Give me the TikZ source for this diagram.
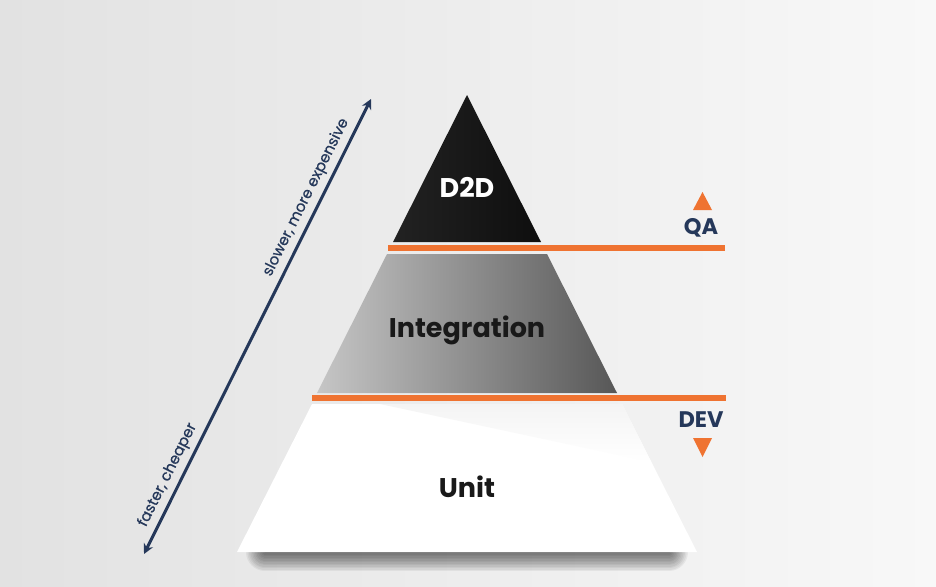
\documentclass[tikz,border=0pt]{standalone}
\usepackage{fontspec}
\setmainfont{Poppins}
\newfontfamily\medfont{Poppins}[FakeBold=0.7]
\usetikzlibrary{arrows.meta}
\definecolor{navy}{HTML}{25385A}
\definecolor{orng}{HTML}{EF7331}
\definecolor{bgl}{HTML}{E2E2E2}
\definecolor{bgr}{HTML}{F8F8F8}
\definecolor{intl}{HTML}{C6C6C6}
\definecolor{intr}{HTML}{575757}
\definecolor{dtop}{HTML}{222222}
\definecolor{dbot}{HTML}{0E0E0E}
\definecolor{unitshade}{HTML}{F4F4F4}
\tikzset{
  orangebar/.style={orng, line width=5.5pt},
  levellabel/.style={font=\bfseries\fontsize{27}{30}\selectfont},
  sidelabel/.style={text=navy, font=\bfseries\fontsize{22.5}{24}\selectfont},
  biarrow/.style={navy, line width=3pt, {Stealth[length=10pt,width=10pt]}-{Stealth[length=10pt,width=10pt]}},
  arrowlabel/.style={text=navy, font=\medfont\fontsize{15}{17}\selectfont, sloped, above=1.5pt},
  marker/.style={fill=orng},
}
\begin{document}
\begin{tikzpicture}[x=1pt,y=-1pt]
\useasboundingbox (0,0) rectangle (936,586);
\shade[left color=bgl, right color=bgr] (0,0) rectangle (936,586);
% shadow below the base
\foreach \w in {2,5,...,40}
  \draw[black, opacity=0.05, line width=\w pt, line cap=round] (265,552) -- (669,552);
% Unit
\fill[white] (312,404) -- (622,404) -- (697,552) -- (237,552) -- cycle;
\shade[top color=unitshade, bottom color=white] (380,404) -- (622,404) -- (651,462) -- cycle;
% Integration
\shade[left color=intl, right color=intr] (387,254) -- (547,254) -- (617,393) -- (317,393) -- cycle;
% D2D
\shade[left color=dtop, right color=dbot] (467,95) -- (541,242) -- (393,242) -- cycle;
% orange bars
\coordinate (qa1) at (388,248);
\coordinate (qa2) at (725,248);
\coordinate (dv1) at (312,398);
\coordinate (dv2) at (726,398);
\draw[orangebar] (qa1) -- (qa2);
\draw[orangebar] (dv1) -- (dv2);
% level labels
\node[levellabel, text=white] (d2d) at (467,187) {D2D};
\node[levellabel, text=black!90] (integ) at (467,330) {Integration};
\node[levellabel, text=black!90] (unit) at (467,487) {Unit};
% side labels
\node[sidelabel] (qa) at (701,228) {QA};
\node[sidelabel] (dev) at (701,420) {DEV};
\fill[marker] (693,210) -- (712,210) -- (702.5,192) -- cycle;
\fill[marker] (693,438) -- (712,438) -- (702.5,457) -- cycle;
% cost arrow
\coordinate (lo) at (144,554);
\coordinate (hi) at (371,99);
\draw[biarrow] (lo) -- (hi)
  node[arrowlabel, pos=0.16] (fast) {faster, cheaper}
  node[arrowlabel, pos=0.77] (slow) {slower, more expensive};
\end{tikzpicture}
\end{document}
